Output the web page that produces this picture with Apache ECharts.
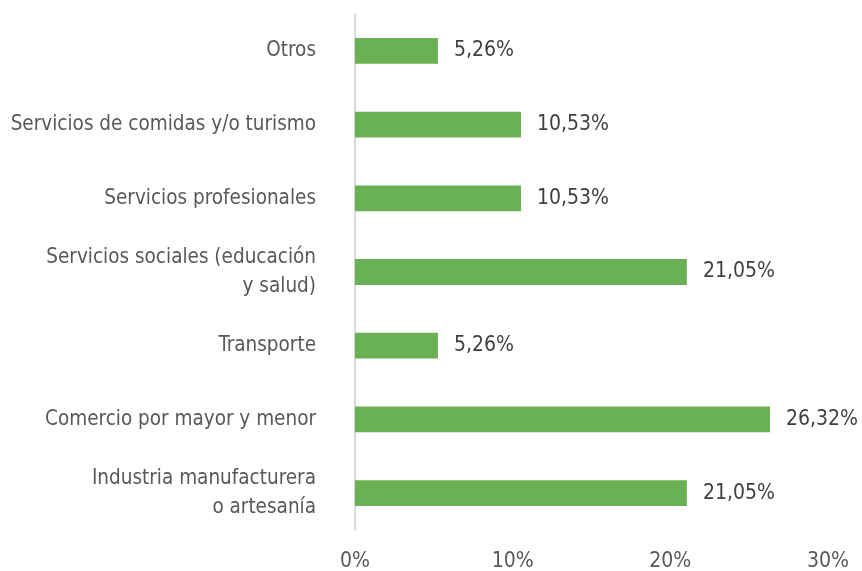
<!DOCTYPE html>
<html>
<head>
<meta charset="utf-8">
<script src="https://cdn.jsdelivr.net/npm/echarts@6/dist/echarts.min.js"></script>
<style>
  html, body { margin: 0; padding: 0; background: #fff; }
  #chart { width: 862px; height: 571px; }
</style>
</head>
<body>
<div id="chart"></div>
<script>
// categories listed bottom to top (category axis starts at the bottom)
const categories = [
  'Industria manufacturera\no artesanía',
  'Comercio por mayor y menor',
  'Transporte',
  'Servicios sociales (educación\ny salud)',
  'Servicios profesionales',
  'Servicios de comidas y/o turismo',
  'Otros'
]
const values = [21.05, 26.32, 5.26, 21.05, 10.53, 10.53, 5.26]
const xTicks = [0, 10, 20, 30]

const font = "'Liberation Sans Narrow', 'DejaVu Sans Condensed', 'Arial Narrow', sans-serif"

const chart = echarts.init(document.getElementById('chart'))
chart.setOption({
  animation: false,
  textStyle: { fontFamily: font },
  grid: {
    left: 355,
    right: 34,
    top: 14,
    bottom: 41,
    containLabel: false,
    outerBoundsMode: 'none'
  },
  xAxis: {
    type: 'value',
    min: xTicks[0],
    max: xTicks[xTicks.length - 1],
    interval: 10,
    axisLine: { show: false },
    axisTick: { show: false },
    splitLine: { show: false },
    axisLabel: {
      margin: 21,
      color: '#595959',
      fontSize: 21,
      fontFamily: font,
      formatter: v => v + '%'
    }
  },
  yAxis: {
    type: 'category',
    data: categories,
    axisLine: { show: true, lineStyle: { color: '#d9d9d9', width: 2 } },
    axisTick: { show: false },
    axisLabel: {
      margin: 39,
      color: '#595959',
      fontSize: 20.5,
      lineHeight: 29,
      align: 'right',
      fontFamily: font
    }
  },
  series: [
    {
      type: 'bar',
      data: values,
      barWidth: '35%',
      itemStyle: { color: '#6ab155' },
      label: {
        show: true,
        position: 'right',
        distance: 16,
        color: '#404040',
        fontSize: 21,
        fontFamily: font,
        formatter: p => p.value.toFixed(2).replace('.', ',') + '%'
      }
    }
  ]
})
</script>
</body>
</html>
